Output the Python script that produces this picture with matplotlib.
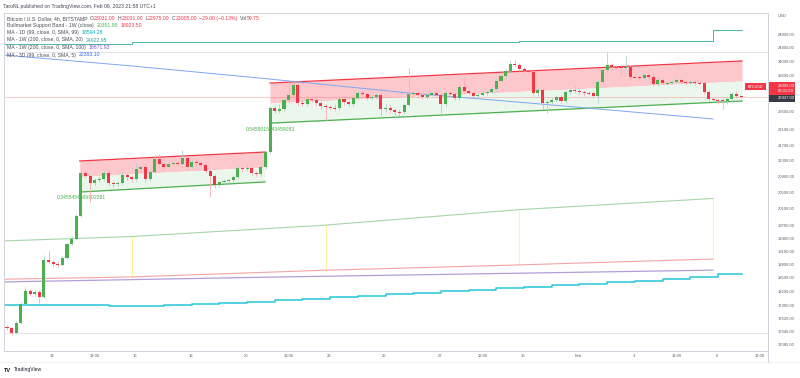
import numpy as np
import matplotlib
matplotlib.use('Agg')
import matplotlib.pyplot as plt
from matplotlib.patches import Rectangle
from matplotlib.lines import Line2D
from matplotlib.ticker import NullLocator

plt.rcParams['font.family'] = ['Liberation Sans', 'DejaVu Sans']

# ------------------ DATA ------------------
# 4h candles BTC/USD, Bitstamp; first bar = Jan 11 09:00 (UTC+1)
start_day = 11.375
bar_step = 1 / 6
first_open = 17440

closes = [
    17420, 17310, 17520, 17930, 18210, 18150, 18190, 18080, 18900, 18860,
    18810, 18790, 18950, 19270, 19380, 19930, 20980, 20910, 20730, 20810,
    20830, 20980, 20730, 20710, 20730, 20930, 20880, 20830, 21080, 21130,
    20830, 21010, 21340, 21210, 21130, 21210, 21240, 21210, 21370, 21130,
    21260, 21240, 21190, 21030, 20910, 20680, 20760, 20780, 20810, 20880,
    21110, 21080, 21110, 20980, 20960, 21130, 21520, 22690, 22610, 22660,
    22910, 23050, 23330, 22830, 22800, 22940, 22910, 22830, 22740, 22720,
    22690, 22680, 22940, 22850, 22800, 22970, 23100, 23080, 22970, 22990,
    23050, 22660, 22690, 22640, 22580, 22570, 22770, 23080, 23100, 23050,
    22990, 23050, 23100, 23050, 22800, 23100, 23080, 22970, 23270, 23160,
    23100, 23020, 23050, 23100, 23130, 23210, 23440, 23580, 23720, 23920,
    23900, 23780, 23720, 23690, 23100, 23190, 22830, 22850, 22910, 22990,
    22880, 23130, 23190, 23160, 23130, 23100, 23090, 23020, 23410, 23750,
    23900, 23840, 23830, 23810, 23840, 23550, 23540, 23520, 23610, 23550,
    23350, 23470, 23380, 23380, 23410, 23470, 23410, 23380, 23410, 23380,
    23370, 23130, 22940, 22910, 22900, 22880, 22940, 23080, 23031, 23005,
]
highs = [
    17480, 17440, 17570, 17970, 18300, 18260, 18230, 18230, 19010, 19130,
    18900, 18880, 18990, 19310, 19450, 19980, 21030, 21060, 20930, 20860,
    20910, 21030, 21060, 20780, 20780, 21010, 20980, 20930, 21240, 21190,
    21240, 21060, 21440, 21470, 21260, 21260, 21290, 21290, 21570, 21420,
    21310, 21340, 21290, 21240, 21080, 20960, 20780, 20830, 20860, 20930,
    21160, 21160, 21240, 21160, 21030, 21190, 21570, 22740, 22770, 22800,
    22960, 23410, 23410, 23380, 22910, 23020, 22990, 23020, 22880, 22800,
    22770, 22800, 22990, 22990, 22910, 23050, 23190, 23160, 23130, 23050,
    23100, 23100, 22800, 22770, 22690, 22660, 22830, 23820, 23190, 23160,
    23100, 23100, 23160, 23190, 23100, 23160, 23160, 23130, 23350, 23520,
    23210, 23160, 23100, 23160, 23190, 23270, 23490, 23640, 23780, 24010,
    24040, 23950, 23840, 23780, 23750, 23240, 23240, 22910, 22960, 23050,
    23050, 23190, 23240, 23300, 23210, 23190, 23160, 23160, 23470, 23810,
    24270, 23950, 23900, 23900, 24160, 23900, 23610, 23610, 23670, 23670,
    23670, 23520, 23520, 23440, 23470, 23520, 23520, 23470, 23470, 23470,
    23440, 23440, 23190, 22990, 22960, 22960, 22990, 23130, 23160, 23031,
]
lows = [
    17380, 17270, 17290, 17500, 17910, 18100, 18100, 17950, 18060, 18810,
    18740, 18740, 18770, 18920, 19250, 19360, 19900, 20860, 20270, 20680,
    20760, 20780, 20660, 20630, 20660, 20680, 20810, 20760, 20780, 21030,
    20760, 20780, 20980, 21160, 21080, 21110, 21190, 21160, 21190, 21060,
    21110, 21190, 21130, 20980, 20390, 20610, 20630, 20710, 20730, 20760,
    20830, 21010, 21030, 20930, 20910, 20910, 21080, 21470, 22550, 22550,
    22610, 22850, 22990, 22740, 22740, 22740, 22850, 22740, 22660, 22370,
    22640, 22610, 22640, 22770, 22740, 22740, 22910, 22990, 22910, 22910,
    22940, 22420, 22580, 22550, 22420, 22470, 22530, 22740, 22990, 22970,
    22940, 22940, 23020, 22990, 22550, 22740, 23020, 22910, 22910, 23100,
    23050, 22970, 22970, 23020, 23050, 23080, 23160, 23380, 23520, 23670,
    23840, 23720, 23670, 23640, 23050, 23020, 22660, 22550, 22800, 22850,
    22830, 22830, 23080, 23100, 23050, 23020, 23050, 22970, 22830, 23350,
    23690, 23780, 23780, 23610, 23750, 23490, 23490, 23470, 23470, 23490,
    23300, 23300, 23330, 23330, 23350, 23380, 23350, 23330, 23350, 23330,
    23330, 23080, 22880, 22850, 22800, 22660, 22800, 22830, 22970, 22975,
]

# parallel channels (day, price)
ch1_days = [14.0, 20.69]
ch1_top = [21290, 21520]
ch1_bot = [20510, 20760]
ch2_days = [20.87, 37.91]
ch2_top = [23380, 24010]
ch2_bot = [22280, 22880]

# moving averages / bands
ma3d_days = [11.27, 15.82, 20.51, 25.92, 30.62, 36.86]
ma3d_vals = [24180, 23870, 23520, 23100, 22800, 22393.10]

band_days = [11.27, 15.82, 22.86, 29.86, 36.86]
band_sma = [19340, 19440, 19710, 20080, 20351.95]
band_ema = [18470, 18520, 18670, 18790, 18923.50]
band_mark_days = [15.875, 22.875, 29.875, 36.875]
band_mark_top = [19445, 19713, 20075, 20352]
band_mark_bot = [18519, 18674, 18787, 18923]

ma1w100_days = [11.27, 21.23, 36.86]
ma1w100_vals = [18410, 18520, 18671.93]

ma1w20_days = [11.27, 15.875, 22.875, 29.875, 36.875, 37.9]
ma1w20_vals = [24500, 24560, 24565, 24580, 24922.95, 24922.95]

ma1d_days = [11, 12, 13, 14, 15, 16, 17, 18, 19, 20, 21, 22, 23, 24,
             25, 26, 27, 28, 29, 30, 31, 32, 33, 34, 35, 36, 37]
ma1d_vals = [17905, 17905, 17905, 17905, 17895, 17884, 17905, 17927, 17949,
             17971, 18015, 18037, 18080, 18102, 18145, 18167, 18210, 18232,
             18275, 18297, 18341, 18363, 18408, 18429, 18474, 18519, 18594.28]

last_price = 23005
prev_price = 22937

xtick_days = [13, 14.54, 16, 18, 20, 21.54, 23, 25, 27, 28.54, 30, 32, 34,
              35.54, 37, 38.54]
xtick_labels = ['13', '13:00', '16', '18', '20', '13:00', '23', '25', '27',
                '13:00', '30', 'Feb', '3', '13:00', '6', '13:00']
ytick_vals = [24800, 24400, 24000, 23600, 22600, 22100, 21700, 21300, 20900,
              20500, 20100, 19700, 19400, 19100, 18800, 18500, 18200, 17900,
              17620, 17345, 17085]

# ------------------ COLORS ------------------
UP = '#4caf50'
DN = '#f23645'
UP_WICK = '#a9d3cf'
DN_WICK = '#f7aeb4'
GREY = '#4a4d57'
AXIS_TXT = '#5d606b'
LINE_GREY = '#d6d9e0'

# ------------------ FIGURE ------------------
W, H = 800, 378
fig = plt.figure(figsize=(W / 100, H / 100), dpi=100)
fig.patch.set_facecolor('white')


def fx(x):
    return x / W


def fy(y):
    return 1 - y / H


ax = fig.add_axes([fx(4), fy(351), fx(768) - fx(4), fy(13) - fy(351)])
ax.set_yscale('log')
ax.set_xlim(11.267, 38.848)
ax.set_ylim(16943, 25434)
ax.set_facecolor('white')

# channels
for days, top, bot in [(ch1_days, ch1_top, ch1_bot), (ch2_days, ch2_top, ch2_bot)]:
    top = np.array(top, dtype=float)
    bot = np.array(bot, dtype=float)
    mid = np.sqrt(top * bot)
    ax.fill_between(days, mid, top, color='#fdc8cc', lw=0, zorder=1)
    ax.fill_between(days, bot, mid, color='#ebf6ec', lw=0, zorder=1)
    ax.plot(days, top, color=DN, lw=0.9, zorder=2)
    ax.plot(days, bot, color=UP, lw=0.9, zorder=2)

ax.text(13.18, 20387, '0.3455454596902391', color=UP, fontsize=3.6,
        va='center', ha='left', zorder=1.5)
ax.text(20.0, 22124, '0.5455015543459083', color=UP, fontsize=3.6,
        va='center', ha='left', zorder=1.5)

# MA / band lines
ax.plot(band_days, band_sma, color='#a5d6a7', lw=0.8, zorder=2)
ax.plot(band_days, band_ema, color='#f5a5a5', lw=0.8, zorder=2)
ax.vlines(band_mark_days, band_mark_bot, band_mark_top, color='#fff3a0', lw=0.8, zorder=1.5)
ax.plot(ma1w100_days, ma1w100_vals, color='#b39ddb', lw=0.9, zorder=2)
ax.plot(np.array(ma1d_days + [37.9 - 1 / 24]) + 1 / 24, ma1d_vals + [ma1d_vals[-1]],
        color='#26c6da', lw=1.1, drawstyle='steps-post', zorder=2)
ax.plot(ma1w20_days, ma1w20_vals, color='#4db6ac', lw=0.7, drawstyle='steps-post', zorder=2)
ax.plot(ma3d_days, ma3d_vals, color='#7ea6f4', lw=0.7, zorder=2)

# last price line
ax.axhline(last_price, color=DN, lw=0.5, alpha=0.35, zorder=1.6)

# candles
opens = [first_open] + closes[:-1]
bar_days = start_day + np.arange(len(closes)) * bar_step
for d, o, h, l, c in zip(bar_days, opens, highs, lows, closes):
    up = c >= o
    ax.vlines(d, l, h, color=UP_WICK if up else DN_WICK, lw=0.6, zorder=3)
    lo, hi = min(o, c), max(o, c)
    if hi / lo < 1.0012:
        m = np.sqrt(hi * lo)
        lo, hi = m / 1.0006, m * 1.0006
    ax.add_patch(Rectangle((d - 0.055, lo), 0.11, hi - lo, facecolor=UP if up else DN,
                           lw=0, zorder=4))

# axes styling
for side in ['top', 'left', 'right', 'bottom']:
    ax.spines[side].set_color('#cfd2da')
    ax.spines[side].set_linewidth(0.7)
ax.yaxis.tick_right()
ax.set_yticks(ytick_vals)
ax.set_yticklabels([f'{v:.2f}' for v in ytick_vals])
ax.yaxis.set_minor_locator(NullLocator())
ax.tick_params(axis='y', length=0, pad=7.2, labelsize=3.0, labelcolor=AXIS_TXT)
ax.set_xticks(xtick_days)
ax.set_xticklabels(xtick_labels)
ax.tick_params(axis='x', length=0, pad=2.5, labelsize=3.0, labelcolor=AXIS_TXT)

# extra separators
for y in [52, 333]:
    fig.add_artist(Line2D([fx(4), fx(768)], [fy(y), fy(y)], color=LINE_GREY, lw=0.5))
fig.add_artist(Line2D([fx(0), fx(800)], [fy(362), fy(362)], color='#eceef2', lw=0.5))
fig.add_artist(Line2D([fx(768), fx(768)], [fy(351), fy(362)], color='#cfd2da', lw=0.7))

# ------------------ TEXT ------------------
renderer = fig.canvas.get_renderer()


def text_row(x, y, parts, size=3.7):
    for s, c, gap in parts:
        t = fig.text(fx(x), fy(y), s, color=c, fontsize=size, va='center', ha='left')
        x = t.get_window_extent(renderer).x1 + gap


fig.text(fx(3), fy(6.5), 'TaroNL published on TradingView.com, Feb 06, 2023 21:58 UTC+1',
         color='#434651', fontsize=3.7, va='center', ha='left')

text_row(7, 18.3, [('Bitcoin / U.S. Dollar, 4h, BITSTAMP', GREY, 2.2),
                   ('O', GREY, 0.2), ('23031.00', DN, 2.2),
                   ('H', GREY, 0.2), ('23031.00', DN, 2.2),
                   ('L', GREY, 0.2), ('22975.00', DN, 2.2),
                   ('C', GREY, 0.2), ('23005.00', DN, 2.2),
                   ('\u221229.00 (\u22120.13%)', DN, 2.2),
                   ('Vol', GREY, 0.2), ('59.75', DN, 0)])
text_row(7, 25.3, [('Bullmarket Support Band - 1W (close)', GREY, 3),
                   ('20351.95', UP, 3), ('18923.50', DN, 0)])
text_row(7, 32.7, [('MA - 1D (99, close, 0, SMA, 99)', GREY, 3),
                   ('18594.28', '#00acc1', 0)])
text_row(7, 40, [('MA - 1W (200, close, 0, SMA, 20)', GREY, 3),
                 ('24922.95', '#26a69a', 0)])
text_row(7, 47.3, [('MA - 1W (200, close, 0, SMA, 100)', GREY, 3),
                   ('18671.93', '#7e57c2', 0)])
text_row(7, 55, [('MA - 3D (99, close, 0, SMA, 5)', GREY, 3),
                 ('22393.10', '#2962ff', 0)])

# price scale labels
fig.text(fx(778), fy(16), 'USD', color=AXIS_TXT, fontsize=3.0, va='center', ha='left')
fig.add_artist(Rectangle((fx(745), fy(90)), fx(21), fy(83) - fy(90), facecolor=DN,
                         lw=0, transform=fig.transFigure))
fig.text(fx(755.5), fy(86.6), 'BTCUSD', color='white', fontsize=2.7, va='center', ha='center')
fig.add_artist(Rectangle((fx(769), fy(95)), fx(26), fy(82) - fy(95), facecolor=DN,
                         lw=0, transform=fig.transFigure))
fig.text(fx(778), fy(86), f'{last_price:.2f}', color='white', fontsize=3.0,
         va='center', ha='left')
fig.text(fx(778), fy(91.5), '03:01:59', color='white', fontsize=3.0, va='center', ha='left')
fig.add_artist(Rectangle((fx(769), fy(101.5)), fx(26), fy(95) - fy(101.5), facecolor='#363a45',
                         lw=0, transform=fig.transFigure))
fig.text(fx(778), fy(98.3), f'{prev_price:.2f}', color='white', fontsize=3.0,
         va='center', ha='left')

# logo
fig.text(fx(4), fy(370), 'TV', color='#131722', fontsize=4.0, fontweight='bold',
         va='center', ha='left')
fig.text(fx(14), fy(370), 'TradingView', color='#131722', fontsize=3.6, va='center', ha='left')

fig.savefig('out.png', dpi=100, facecolor='white')
